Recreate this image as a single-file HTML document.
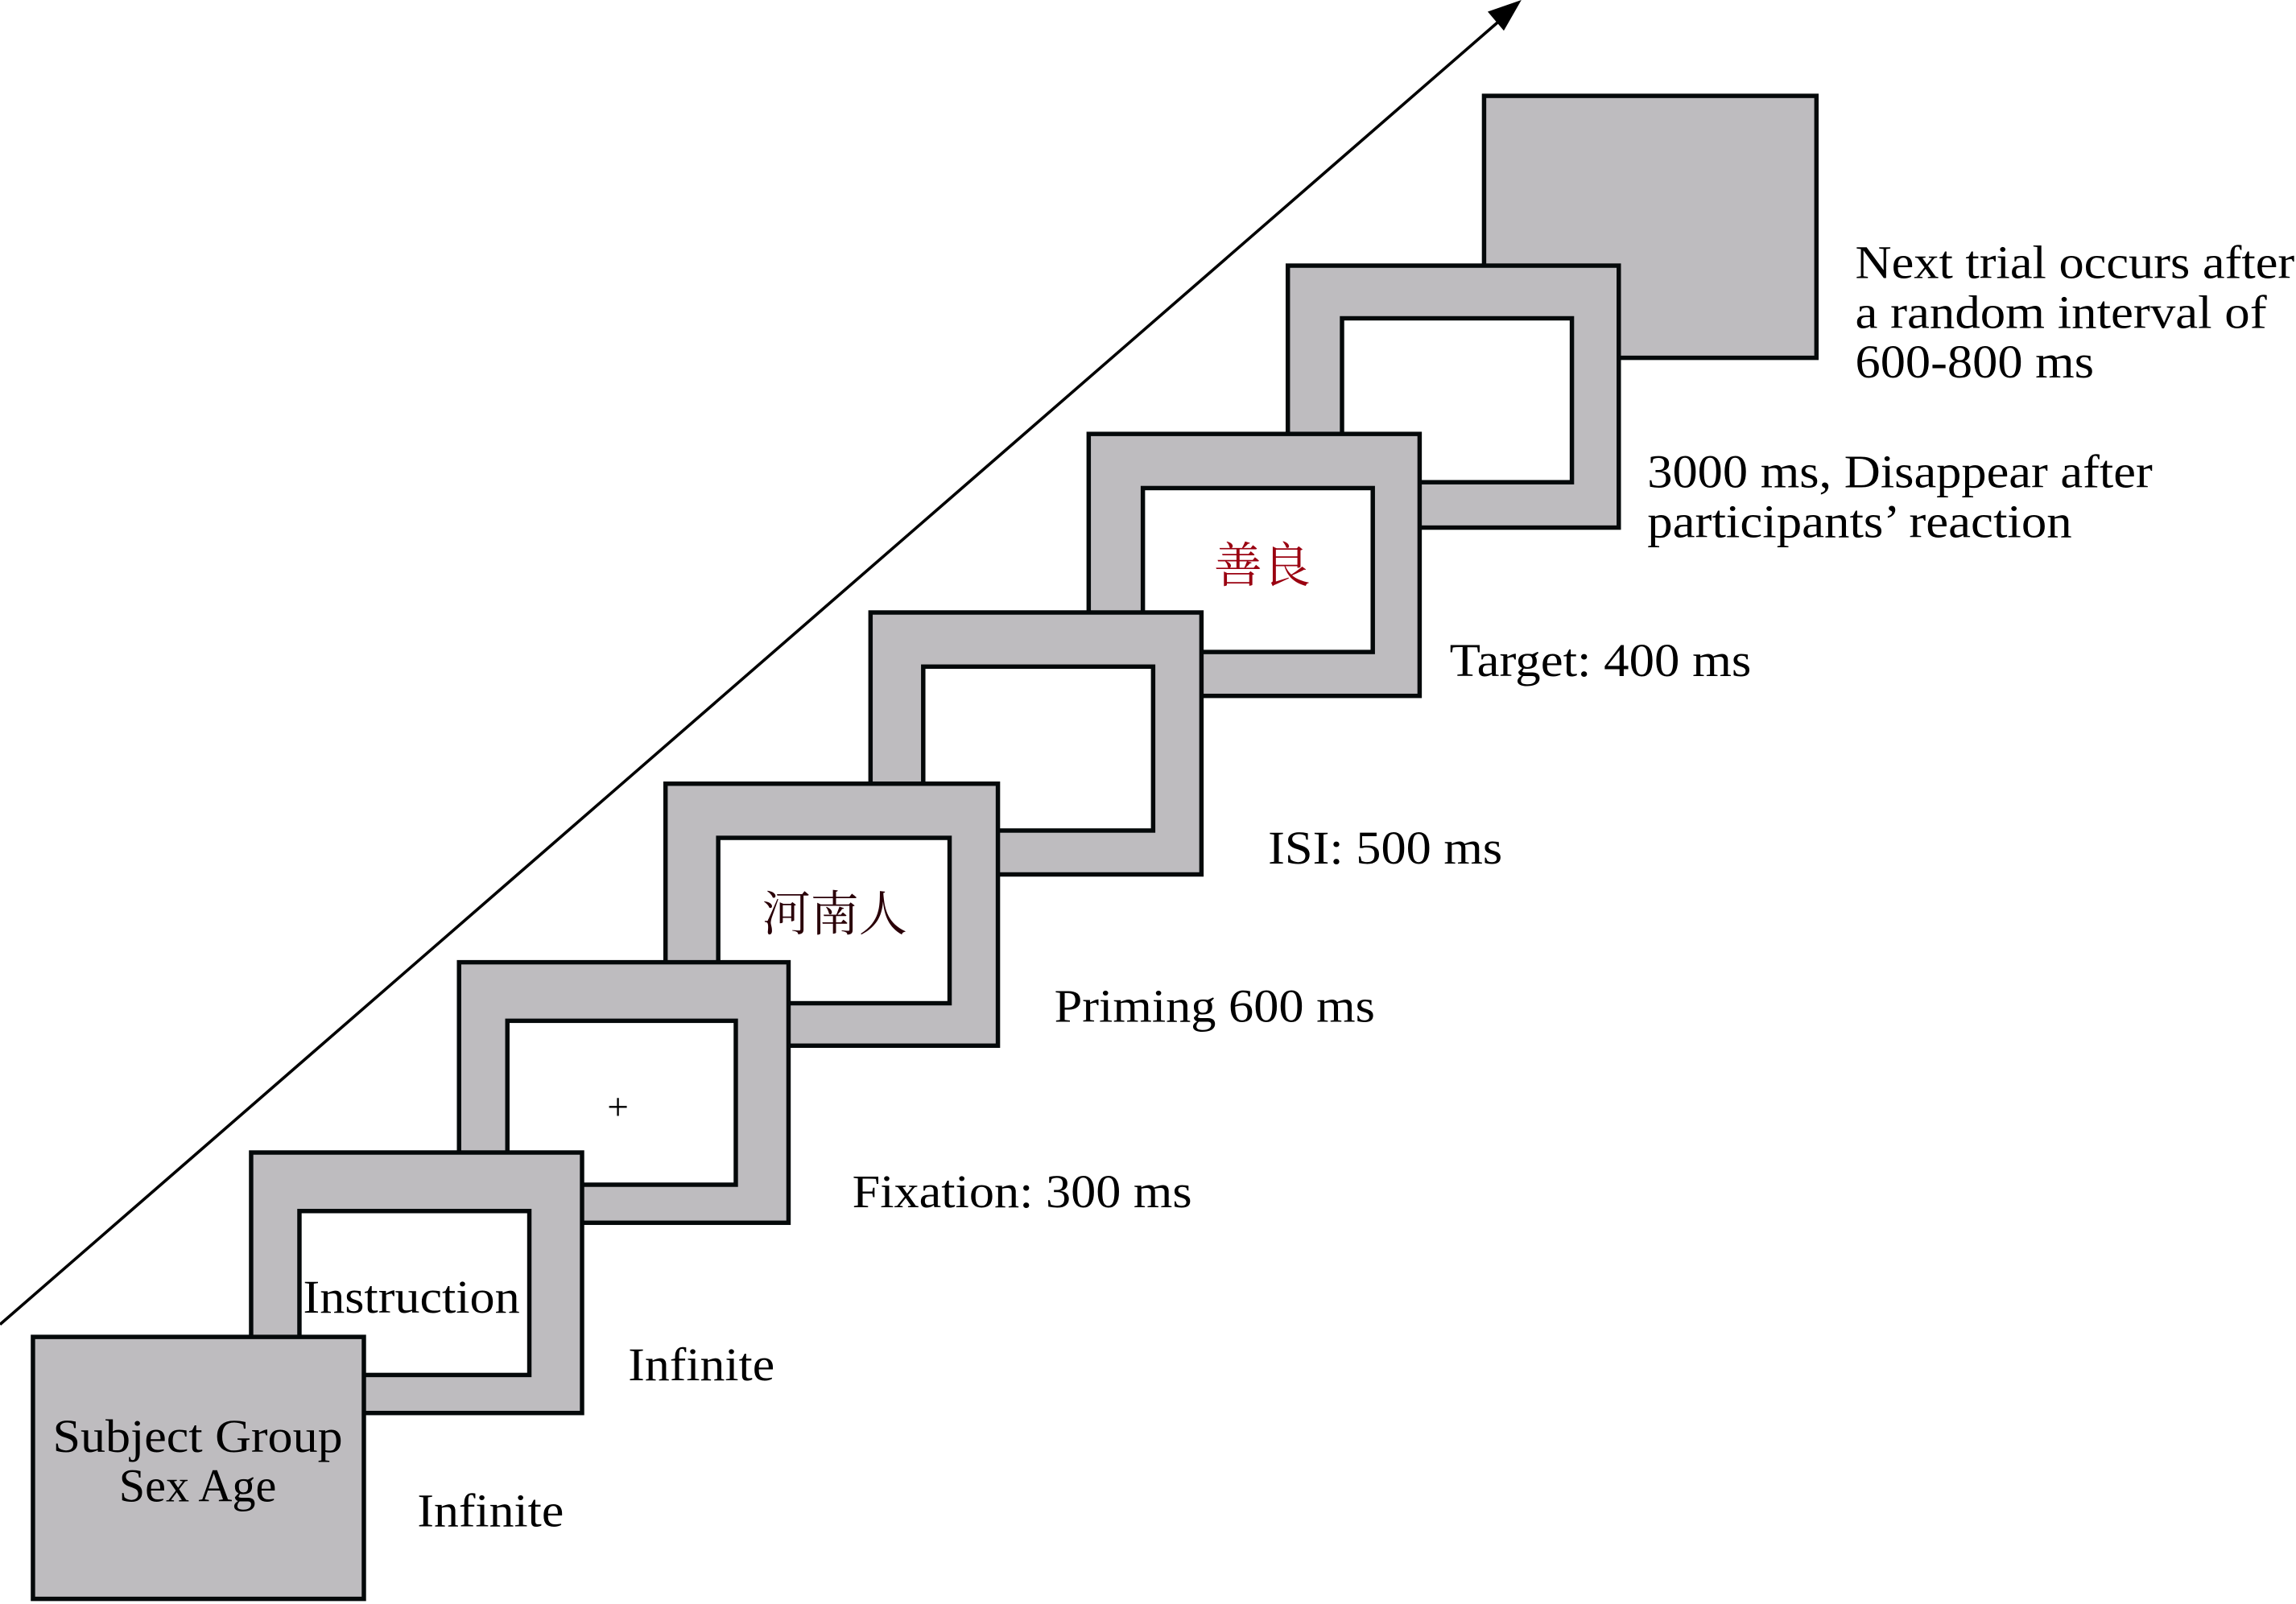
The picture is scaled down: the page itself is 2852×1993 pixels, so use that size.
<!DOCTYPE html>
<html><head><meta charset="utf-8"><style>
html,body{margin:0;padding:0;background:#fff;}
svg{display:block;}
text{font-family:"Liberation Serif","Noto Serif CJK SC",serif;font-size:32px;fill:#000;}
</style></head><body>
<svg width="2852" height="1993" viewBox="0 0 1568 1096" preserveAspectRatio="none" xmlns="http://www.w3.org/2000/svg">
<g stroke="#05090a" stroke-width="3" fill="#bebcbf">
<rect x="1013.5" y="65.5" width="227" height="179"/>
<rect x="879.5" y="181.5" width="226" height="179"/><rect x="916.5" y="217.5" width="157" height="112" fill="#fff"/>
<rect x="743.5" y="296.5" width="226" height="179"/><rect x="780.5" y="333.5" width="157" height="112" fill="#fff"/>
<rect x="594.5" y="418.5" width="226" height="179"/><rect x="630.5" y="455.5" width="157" height="112" fill="#fff"/>
<rect x="454.5" y="535.5" width="227" height="179"/><rect x="490.5" y="572.5" width="158" height="113" fill="#fff"/>
<rect x="313.5" y="657.5" width="225" height="178"/><rect x="346.5" y="697.5" width="156" height="112" fill="#fff"/>
<rect x="171.5" y="787.5" width="226" height="178"/><rect x="204.5" y="827.5" width="157" height="112" fill="#fff"/>
<rect x="22.5" y="913.5" width="226" height="179"/>
</g>
<line x1="0" y1="905" x2="1030" y2="9" stroke="#000" stroke-width="2"/>
<polygon points="1039,0 1016,8 1027,21" fill="#000"/>
<text x="862" y="398" text-anchor="middle" style="fill:#9a0010;font-size:33px">善良</text>
<text x="570" y="636" text-anchor="middle" style="fill:#2a0008;font-size:33px">河南人</text>
<text x="422" y="765" text-anchor="middle" style="font-size:26px">+</text>
<text x="281" y="897" text-anchor="middle" textLength="148" lengthAdjust="spacingAndGlyphs">Instruction</text>
<text x="135" y="992" text-anchor="middle" textLength="198" lengthAdjust="spacingAndGlyphs">Subject Group</text>
<text x="135" y="1026" text-anchor="middle">Sex Age</text>
<text x="285" y="1043" textLength="100" lengthAdjust="spacingAndGlyphs">Infinite</text>
<text x="429" y="943" textLength="100" lengthAdjust="spacingAndGlyphs">Infinite</text>
<text x="582" y="825" textLength="232" lengthAdjust="spacingAndGlyphs">Fixation: 300 ms</text>
<text x="720" y="698" textLength="219" lengthAdjust="spacingAndGlyphs">Priming 600 ms</text>
<text x="866" y="590" textLength="160" lengthAdjust="spacingAndGlyphs">ISI: 500 ms</text>
<text x="990" y="462" textLength="206" lengthAdjust="spacingAndGlyphs">Target: 400 ms</text>
<text x="1125" y="333" textLength="345" lengthAdjust="spacingAndGlyphs">3000 ms, Disappear after</text>
<text x="1125" y="367" textLength="290" lengthAdjust="spacingAndGlyphs">participants’ reaction</text>
<text x="1267" y="190" textLength="300" lengthAdjust="spacingAndGlyphs">Next trial occurs after</text>
<text x="1267" y="224" textLength="281" lengthAdjust="spacingAndGlyphs">a random interval of</text>
<text x="1267" y="258" textLength="163" lengthAdjust="spacingAndGlyphs">600-800 ms</text>
</svg>
</body></html>
